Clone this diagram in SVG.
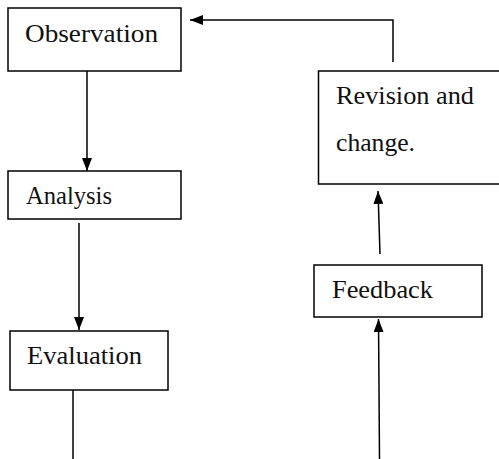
<svg xmlns="http://www.w3.org/2000/svg" width="499" height="459" viewBox="0 0 499 459">
<style>
.box{fill:#fff;stroke:#000;stroke-width:1.5}
.lbl{font-family:"Liberation Serif","Times New Roman",serif;font-size:26px;fill:#111}
.c{stroke:#000;stroke-width:1.5;fill:none}
</style>
<defs>
<marker id="ah" markerUnits="userSpaceOnUse" markerWidth="13" markerHeight="10" refX="13" refY="5" orient="auto">
<path d="M0,0 L13,5 L0,10 z" fill="#000"/>
</marker>
</defs>
<rect width="499" height="459" fill="#fff"/>
<g id="connectors">
<path class="c" d="M393,62 L393,20 L190,20" marker-end="url(#ah)"/>
<path class="c" d="M87,71 L87,171" marker-end="url(#ah)"/>
<path class="c" d="M79,223 L79,330" marker-end="url(#ah)"/>
<path class="c" d="M73,390 L73,459"/>
<path class="c" d="M379.5,459 L378.5,319" marker-end="url(#ah)"/>
<path class="c" d="M380,254 L378,191" marker-end="url(#ah)"/>
</g>
<g id="observation">
<rect class="box" x="8" y="8" width="173" height="63"/>
<text class="lbl" x="25" y="42" textLength="133" lengthAdjust="spacingAndGlyphs">Observation</text>
</g>
<g id="analysis">
<rect class="box" x="8" y="171" width="173" height="48"/>
<text class="lbl" x="26" y="204" textLength="86" lengthAdjust="spacingAndGlyphs">Analysis</text>
</g>
<g id="evaluation">
<rect class="box" x="10" y="331" width="158" height="59"/>
<text class="lbl" x="27" y="364" textLength="115" lengthAdjust="spacingAndGlyphs">Evaluation</text>
</g>
<g id="feedback">
<rect class="box" x="314" y="265" width="168" height="52"/>
<text class="lbl" x="332" y="298" textLength="101" lengthAdjust="spacingAndGlyphs">Feedback</text>
</g>
<g id="revision">
<rect class="box" x="318.5" y="71" width="190" height="113"/>
<text class="lbl" x="336" y="104" textLength="138" lengthAdjust="spacingAndGlyphs">Revision and</text>
<text class="lbl" x="336" y="151" textLength="79" lengthAdjust="spacingAndGlyphs">change.</text>
</g>
</svg>
